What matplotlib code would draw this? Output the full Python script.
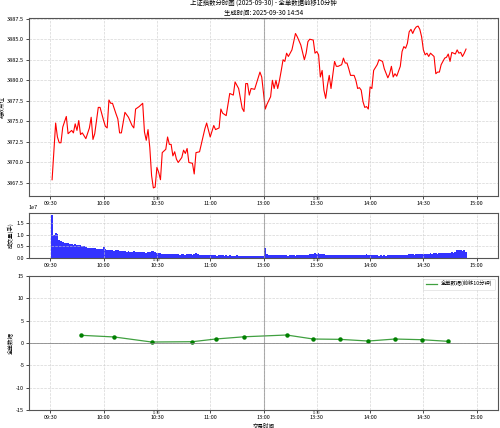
import matplotlib
matplotlib.use('Agg')
import matplotlib.pyplot as plt
import matplotlib.transforms as mtransforms
import numpy as np

plt.rcParams['font.family'] = ['Noto Sans CJK SC', 'DejaVu Sans']
plt.rcParams['axes.unicode_minus'] = False

title_line1 = "上证指数分时图 (2025-09-30) - 全单数据前移10分钟"
title_line2 = "生成时间: 2025-09-30 14:54"

price_times = [
    "09:31", "09:33", "09:34", "09:35", "09:36", "09:37", "09:39", "09:40", "09:42", "09:43",
    "09:44", "09:45", "09:46", "09:47", "09:48", "09:50", "09:52", "09:53", "09:54", "09:55",
    "09:57", "09:58", "10:00", "10:01", "10:02", "10:03", "10:04", "10:05", "10:07", "10:08",
    "10:09", "10:10", "10:12", "10:14", "10:16", "10:17", "10:18", "10:20", "10:22", "10:23",
    "10:24", "10:25", "10:26", "10:27", "10:28", "10:29", "10:30", "10:31", "10:32", "10:33",
    "10:35", "10:36", "10:37", "10:38", "10:39", "10:40", "10:41", "10:42", "10:44", "10:45",
    "10:46", "10:47", "10:48", "10:50", "10:51", "10:52", "10:54", "10:57", "10:58", "11:00",
    "11:02", "11:03", "11:05", "11:06", "11:07", "11:09", "11:11", "11:13", "11:14", "11:16",
    "11:18", "11:19", "11:20", "11:21", "11:22", "11:23", "11:25", "11:28", "11:29", "11:30",
    "13:01", "13:02", "13:04", "13:05", "13:06", "13:07", "13:08", "13:09", "13:10", "13:11",
    "13:12", "13:13", "13:14", "13:16", "13:18", "13:19", "13:21", "13:23", "13:24", "13:25",
    "13:26", "13:28", "13:29", "13:30", "13:31", "13:32", "13:33", "13:34", "13:35", "13:36",
    "13:37", "13:38", "13:40", "13:41", "13:42", "13:44", "13:45", "13:46", "13:47", "13:48",
    "13:49", "13:51", "13:52", "13:53", "13:54", "13:55", "13:56", "13:57", "13:58", "13:59",
    "14:00", "14:01", "14:02", "14:04", "14:05", "14:07", "14:08", "14:10", "14:11", "14:12",
    "14:13", "14:14", "14:15", "14:17", "14:18", "14:19", "14:20", "14:21", "14:22", "14:23",
    "14:24", "14:25", "14:26", "14:27", "14:28", "14:29", "14:30", "14:31", "14:32", "14:33",
    "14:34", "14:35", "14:36", "14:37", "14:38", "14:39", "14:40", "14:42", "14:43", "14:44",
    "14:45", "14:46", "14:48", "14:49", "14:50", "14:51", "14:52", "14:53", "14:54",
]
price_values = [
    3867.9, 3874.8, 3873.1, 3872.4, 3872.4, 3874.3, 3875.6, 3873.5, 3873.9, 3873.6,
    3874.7, 3873.9, 3875.1, 3873.4, 3873.6, 3872.9, 3874.2, 3875.5, 3872.8, 3873.5,
    3876.7, 3876.7, 3875.1, 3874.4, 3874.2, 3877.6, 3877.2, 3877.2, 3875.9, 3875.3,
    3873.6, 3873.6, 3876.1, 3875.5, 3874.5, 3874.2, 3876.5, 3876.8, 3877.2, 3873.7,
    3872.7, 3874.0, 3871.8, 3868.4, 3866.9, 3867.0, 3869.4, 3868.8, 3867.9, 3871.2,
    3871.6, 3873.1, 3872.2, 3872.2, 3870.8, 3871.3, 3870.4, 3870.0, 3870.6, 3871.5,
    3871.1, 3871.7, 3870.0, 3869.9, 3868.6, 3871.2, 3871.3, 3874.1, 3874.8, 3873.1,
    3874.5, 3874.0, 3874.2, 3876.5, 3876.0, 3875.7, 3878.4, 3878.2, 3879.8, 3879.0,
    3876.6, 3876.2, 3879.6, 3879.6, 3878.2, 3879.0, 3878.9, 3881.0, 3880.4, 3878.5,
    3876.5, 3877.1, 3878.0, 3880.0, 3879.0, 3880.0, 3879.0, 3880.0, 3881.2, 3882.5,
    3882.3, 3883.3, 3882.9, 3883.7, 3885.7, 3885.3, 3884.3, 3882.5, 3883.3, 3884.7,
    3885.0, 3884.9, 3883.3, 3883.5, 3883.1, 3880.4, 3881.2, 3878.8, 3877.8, 3879.4,
    3880.6, 3879.0, 3882.3, 3881.7, 3881.7, 3881.9, 3882.7, 3882.1, 3882.1, 3881.4,
    3880.6, 3880.6, 3880.0, 3879.0, 3879.1, 3878.8, 3877.4, 3876.7, 3876.8, 3876.5,
    3879.2, 3879.0, 3881.2, 3881.9, 3882.5, 3882.3, 3881.4, 3880.3, 3880.8, 3881.7,
    3880.4, 3880.8, 3880.5, 3881.7, 3883.5, 3884.1, 3883.9, 3884.5, 3885.9, 3886.2,
    3885.7, 3886.2, 3886.5, 3886.6, 3886.2, 3885.3, 3883.7, 3883.1, 3883.3, 3882.9,
    3883.3, 3883.1, 3882.9, 3880.8, 3881.0, 3881.0, 3881.9, 3882.7, 3882.8, 3883.2,
    3882.3, 3883.4, 3883.2, 3883.7, 3883.3, 3883.4, 3882.9, 3883.3, 3883.8,
]

volume_first_time = "09:31"
# volume per minute, in units of 1e7 hands
volume_values = [
    1.83, 0.99, 1.06, 1.05, 0.77, 0.72, 0.68, 0.66, 0.64, 0.66,
    0.60, 0.62, 0.58, 0.60, 0.56, 0.54, 0.55, 0.52, 0.50, 0.48,
    0.42, 0.41, 0.44, 0.45, 0.43, 0.40, 0.38, 0.37, 0.39, 0.46,
    0.40, 0.36, 0.34, 0.33, 0.35, 0.32, 0.33, 0.34, 0.31, 0.30,
    0.31, 0.29, 0.28, 0.30, 0.28, 0.27, 0.29, 0.27, 0.26, 0.25,
    0.27, 0.25, 0.24, 0.23, 0.26, 0.28, 0.32, 0.30, 0.25, 0.22,
    0.21, 0.20, 0.19, 0.18, 0.18, 0.17, 0.19, 0.17, 0.16, 0.18,
    0.16, 0.17, 0.15, 0.16, 0.17, 0.15, 0.16, 0.17, 0.16, 0.15,
    0.16, 0.20, 0.18, 0.15, 0.14, 0.13, 0.14, 0.13, 0.12, 0.13,
    0.12, 0.13, 0.12, 0.11, 0.12, 0.13, 0.12, 0.11, 0.12, 0.11,
    0.12, 0.11, 0.10, 0.11, 0.12, 0.11, 0.10, 0.11, 0.10, 0.11,
    0.10, 0.11, 0.10, 0.10, 0.11, 0.10, 0.09, 0.10, 0.11, 0.10,
    0.42, 0.16, 0.14, 0.13, 0.14, 0.13, 0.12, 0.13, 0.12, 0.13,
    0.12, 0.13, 0.12, 0.11, 0.12, 0.13, 0.12, 0.11, 0.12, 0.13,
    0.12, 0.13, 0.14, 0.13, 0.15, 0.16, 0.18, 0.19, 0.20, 0.19,
    0.20, 0.19, 0.17, 0.16, 0.14, 0.13, 0.14, 0.13, 0.12, 0.13,
    0.12, 0.13, 0.14, 0.13, 0.12, 0.13, 0.14, 0.13, 0.15, 0.14,
    0.13, 0.14, 0.13, 0.15, 0.14, 0.13, 0.14, 0.16, 0.15, 0.14,
    0.13, 0.12, 0.13, 0.12, 0.11, 0.12, 0.11, 0.12, 0.11, 0.12,
    0.12, 0.13, 0.12, 0.13, 0.12, 0.14, 0.13, 0.14, 0.15, 0.14,
    0.15, 0.16, 0.18, 0.16, 0.15, 0.17, 0.16, 0.18, 0.19, 0.17,
    0.18, 0.17, 0.19, 0.20, 0.18, 0.20, 0.21, 0.19, 0.20, 0.22,
    0.21, 0.22, 0.21, 0.23, 0.22, 0.24, 0.23, 0.25, 0.33, 0.34,
    0.35, 0.32, 0.33, 0.26,
]

flow_times = ["09:47", "10:06", "10:27", "10:50", "11:03", "11:19", "13:13",
              "13:28", "13:43", "13:59", "14:14", "14:29", "14:44"]
flow_values = [1.74, 1.36, 0.23, 0.30, 0.90, 1.40, 1.80,
               0.90, 0.83, 0.45, 0.90, 0.75, 0.38]

tick_labels = ["09:30", "10:00", "10:30", "11:00", "13:00", "13:30", "14:00", "14:30", "15:00"]
lunch_label = "13:00"


def to_idx(t):
    h, m = map(int, t.split(':'))
    mins = h * 60 + m
    if mins <= 11 * 60 + 30:
        return mins - (9 * 60 + 30)
    return mins - 13 * 60 + 120


px = [to_idx(t) for t in price_times]
v0 = to_idx(volume_first_time)
vx = [v0 + i for i in range(len(volume_values))]
vy = np.array(volume_values) * 1e7
fx = [to_idx(t) for t in flow_times]
tick_pos = [to_idx(t) for t in tick_labels]
lunch_x = to_idx(lunch_label)

fig = plt.figure(figsize=(5.0, 4.28), dpi=100)
ax1 = fig.add_axes([0.058, 0.542, 0.938, 0.416])
ax2 = fig.add_axes([0.058, 0.397, 0.938, 0.105])
ax3 = fig.add_axes([0.058, 0.042, 0.938, 0.313])

fs = 4.0

ax1.plot(px, price_values, color='red', linewidth=0.8)
ax1.set_ylabel("指数点位", fontsize=fs, labelpad=2)
ax1.set_title(title_line1 + "\n" + title_line2, fontsize=4.6, pad=2, linespacing=1.2)

ax2.bar(vx, vy, width=1.0, color='blue', alpha=0.8, linewidth=0)
ax2.set_ylabel("成交量(手)", fontsize=fs, labelpad=2)
ax2.set_yticks([0, 0.5e7, 1.0e7, 1.5e7])

ax3.plot(fx, flow_values, color='green', alpha=0.75, linewidth=0.9,
         label="全单数据(前移10分钟)")
ax3.plot(fx, flow_values, color='green', marker='o', markersize=2.2,
         linestyle='none')
ax3.axhline(0, color='gray', linewidth=0.7, alpha=0.8)
ax3.set_ylim(-15, 15)
ax3.set_yticks([-15, -10, -5, 0, 5, 10, 15])
ax3.set_ylabel("全单数据", fontsize=fs, labelpad=2)
ax3.set_xlabel("交易时间", fontsize=fs, labelpad=2)
leg = ax3.legend(loc='upper right', fontsize=3.8, frameon=True, fancybox=True,
                 handlelength=2.2, borderpad=0.5)
leg.get_frame().set_linewidth(0.4)

for ax in (ax1, ax2, ax3):
    ax.set_xlim(-12, 252)
    ax.set_xticks(tick_pos)
    ax.set_xticklabels(tick_labels)
    ax.tick_params(labelsize=fs, length=2, width=0.5, pad=1.5)
    ax.grid(True, linestyle='--', color='#cccccc', linewidth=0.5, alpha=0.8)
    ax.axvline(lunch_x, color='gray', linewidth=0.8, alpha=0.6)
    for s in ax.spines.values():
        s.set_color('#555555')
        s.set_linewidth(0.8)
    trans = mtransforms.blended_transform_factory(ax.transData, ax.transAxes)
    for t in ("10:30", "13:30"):
        ax.text(to_idx(t), -0.005, "11:30", transform=trans, fontsize=2.2,
                ha='center', va='top', color='#333333')

ax2.yaxis.get_offset_text().set_fontsize(fs)

fig.savefig("out.png", dpi=100)
